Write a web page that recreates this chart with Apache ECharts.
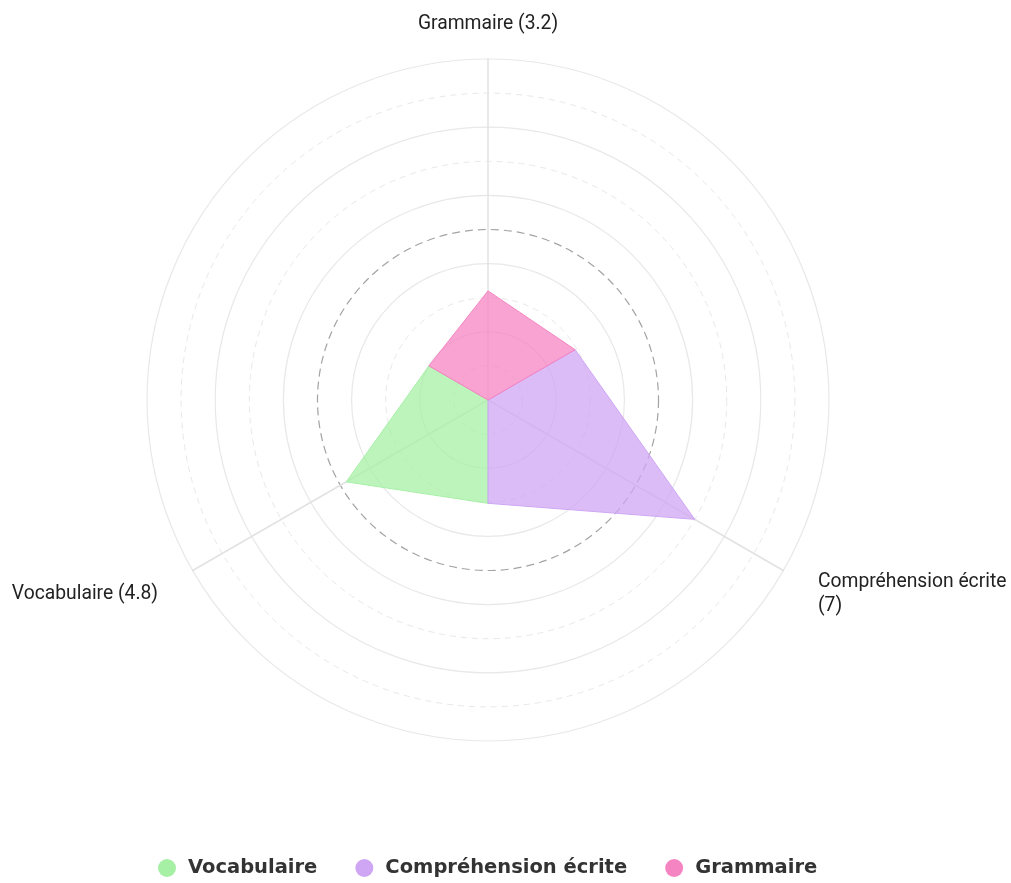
<!DOCTYPE html>
<html>
<head>
<meta charset="utf-8">
<script src="https://cdn.jsdelivr.net/npm/echarts@6/dist/echarts.min.js"></script>
<style>
  html, body { margin: 0; padding: 0; background: #fff; }
  #chart { width: 1011px; height: 883px; }
</style>
</head>
<body>
<div id="chart"></div>
<script>
// axes go counter-clockwise from the top
const axes = ['Grammaire', 'Vocabulaire', 'Compréhension écrite']
const scores = [3.2, 4.8, 7]
// radius where two neighbouring sectors meet: G–V, V–C, C–G
const seams = [2.0, 3.03, 2.95]
const seriesNames = ['Vocabulaire', 'Compréhension écrite', 'Grammaire']
const seriesColors = ['#a6f0a6', '#cfa6f4', '#f584c2']
// six spokes: G, G|V, V, V|C, C, C|G
const seriesValues = [
  [0, seams[0], scores[1], seams[1], 0, 0],
  [0, 0, 0, seams[1], scores[2], seams[2]],
  [scores[0], seams[0], 0, 0, 0, seams[2]],
]

// long names push the value onto a second line
const labels = axes.map((a, i) => (a.length > 15 ? `${a}\n(${scores[i]})` : `${a} (${scores[i]})`))
const T = 'transparent'
const light = '#e8e8e8'

const base = {
  center: [488, 400],
  radius: 341,
  startAngle: 90,
  shape: 'circle',
  splitArea: { show: false },
  axisTick: { show: false },
  axisLabel: { show: false },
}
const nameStyle = { color: '#222', fontFamily: 'Roboto', fontSize: 19.3, lineHeight: 24 }

const chart = echarts.init(document.getElementById('chart'))
chart.setOption({
  backgroundColor: '#fff',
  radar: [
    {
      ...base,
      splitNumber: 10,
      indicator: axes.map((a, i) => ({ name: i === 0 ? labels[i] : '', min: 0, max: 10 })),
      axisName: { ...nameStyle },
      nameGap: 23,
      axisLine: { lineStyle: { color: '#e2e2e2', width: 1.5 } },
      splitLine: { lineStyle: { type: 'solid', width: 1.2, color: [T, T, light, T, light, T, light, T, light, T, light] } },
    },
    {
      ...base,
      splitNumber: 10,
      indicator: axes.map(() => ({ name: '', min: 0, max: 10 })),
      axisName: { show: false },
      axisLine: { show: false },
      splitLine: { lineStyle: { type: [6, 5], width: 1, color: [T, light, T, light, T, T, T, light, T, light, T] } },
    },
    {
      ...base,
      splitNumber: 2,
      indicator: axes.map(() => ({ name: '', min: 0, max: 10 })),
      axisName: { show: false },
      axisLine: { show: false },
      splitLine: { lineStyle: { type: [8, 5], width: 1.2, color: [T, '#a3a3a3', T] } },
    },
    {
      ...base,
      splitNumber: 10,
      indicator: [0, 1, 2, 3, 4, 5].map(() => ({ name: '', min: 0, max: 10 })),
      axisName: { show: false },
      axisLine: { show: false },
      splitLine: { show: false },
    },
    {
      // side names only, sitting a little lower
      ...base,
      center: [488, 404],
      indicator: axes.map((a, i) => ({ name: i === 0 ? '' : labels[i], min: 0, max: 10 })),
      axisName: { ...nameStyle },
      nameGap: 40,
      axisLine: { show: false },
      splitLine: { show: false },
    },
  ],
  legend: {
    top: 853,
    left: 153,
    icon: 'circle',
    itemWidth: 32,
    itemHeight: 18,
    itemGap: 38,
    data: seriesNames,
    textStyle: { fontFamily: 'DejaVu Sans', fontWeight: 'bold', fontSize: 19.5, color: '#333' },
  },
  series: seriesNames.map((name, i) => ({
    name,
    type: 'radar',
    radarIndex: 3,
    symbol: 'none',
    silent: true,
    itemStyle: { color: seriesColors[i] },
    lineStyle: { color: seriesColors[i], width: 1 },
    areaStyle: { color: seriesColors[i], opacity: 0.75 },
    data: [{ name, value: seriesValues[i] }],
  })),
})
</script>
</body>
</html>
